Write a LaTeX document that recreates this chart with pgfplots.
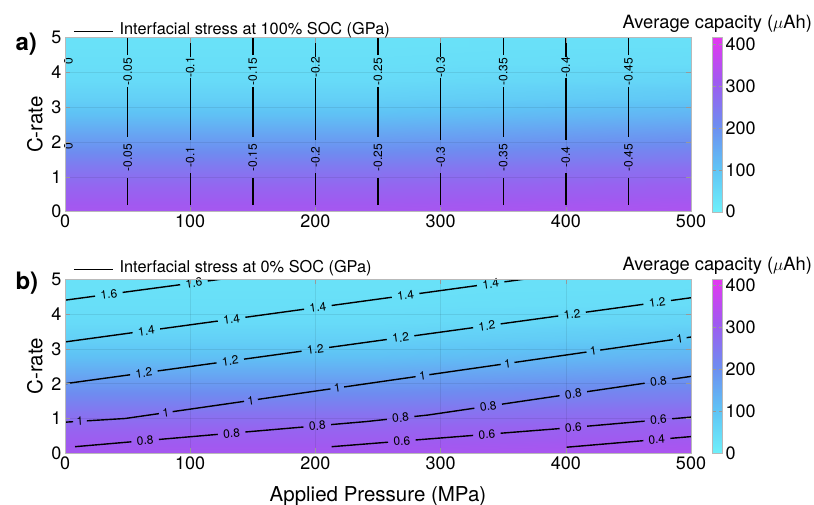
\documentclass[border=0pt]{standalone}
\usepackage{pgfplots}
\usepackage{pgfplotstable}
\pgfplotsset{compat=1.18}
\usepackage{fontspec}
\setmainfont{TeX Gyre Heros}

\newcommand{\bigf}{\fontsize{20.5}{22}\selectfont}
\newcommand{\tickf}{\fontsize{18}{20}\selectfont}
\newcommand{\lab}{\fontsize{12}{14}\selectfont}

% capacity vs C-rate, same for every pressure
\pgfplotstableread{
p r c
0 0 330
500 0 330
0 0.5 312
500 0.5 312
0 1 287
500 1 287
0 1.5 250
500 1.5 250
0 2 205
500 2 205
0 2.5 158
500 2.5 158
0 3 112
500 3 112
0 3.5 75
500 3.5 75
0 4 50
500 4 50
0 4.5 40
500 4.5 40
0 5 35
500 5 35
}\bgdata

\pgfplotsset{
  panel/.style={
    scale only axis, width=626pt, height=174pt,
    xmin=0, xmax=500, ymin=0, ymax=5,
    clip mode=individual,
    xtick={0,100,...,500}, ytick={0,1,...,5},
    tick align=inside, major tick length=5pt,
    every tick/.style={gray!80, line width=0.5pt},
    axis line style={gray!55, line width=0.7pt},
    grid=major, major grid style={black, opacity=0.08, line width=0.5pt},
    axis on top,
    tick label style={font=\tickf},
    label style={font=\bigf},
    /pgf/number format/assume math mode=true,
    colormap={capmap}{rgb255=(110,240,250) rgb255=(95,195,245) rgb255=(110,140,240) rgb255=(160,90,240) rgb255=(228,55,240)},
    point meta min=0, point meta max=415,
    colorbar,
    colorbar style={
      at={(parent axis.north east)}, anchor=north west, xshift=13pt,
      scale only axis, width=9.5pt, height=174pt,
      ytick={0,100,...,400},
      yticklabel style={font=\tickf},
      axis line style={gray!55},
      major tick length=3pt, tick align=inside,
      every tick/.style={gray!80},
      /pgf/number format/assume math mode=true,
      title={Average capacity ($\mu$Ah)},
      title style={at={(0.5,1)}, anchor=base, yshift=3pt, font=\fontsize{18.3}{20}\selectfont},
    },
    legend style={draw=none, fill=none, at={(axis description cs:0,1)},
      anchor=south west, xshift=5pt, font=\fontsize{16.3}{18}\selectfont},
    legend cell align=left,
    legend image code/.code={\draw[#1] (0pt,-2pt) -- (39pt,-2pt); \path (43pt,0pt);},
    ylabel={C-rate},
    ylabel style={at={(axis description cs:-0.048,0.5)}, anchor=center},
  },
  cline/.style={black, line width=1.4pt, unbounded coords=jump},
}

\begin{document}
\begin{tikzpicture}
\path[use as bounding box] (-65pt,211.7pt) rectangle (749pt,-293.3pt);

% ---------------- a) ----------------
\begin{axis}[panel, legend style={yshift=-3pt}]
\addplot[matrix plot*, shader=interp, mesh/cols=2, point meta=explicit, forget plot]
  table[x=p, y=r, meta=c] {\bgdata};
\addplot[cline] table {
x y
0.6 0.19
0.6 1.77
nan nan
0.6 2.01
0.6 4.21
nan nan
0.6 4.45
0.6 5
nan nan
50 0.19
50 0.96
nan nan
50 2.15
50 3.57
nan nan
50 4.5
50 5
nan nan
100 0.19
100 1.10
nan nan
100 2.06
100 3.83
nan nan
100 4.45
100 5
nan nan
150 0.19
150 0.96
nan nan
150 2.15
150 3.57
nan nan
150 4.5
150 5
nan nan
200 0.19
200 1.10
nan nan
200 2.06
200 3.83
nan nan
200 4.45
200 5
nan nan
250 0.19
250 0.96
nan nan
250 2.15
250 3.57
nan nan
250 4.5
250 5
nan nan
300 0.19
300 1.10
nan nan
300 2.06
300 3.83
nan nan
300 4.45
300 5
nan nan
350 0.19
350 0.96
nan nan
350 2.15
350 3.57
nan nan
350 4.5
350 5
nan nan
400 0.19
400 1.10
nan nan
400 2.06
400 3.83
nan nan
400 4.45
400 5
nan nan
450 0.19
450 0.96
nan nan
450 2.15
450 3.57
nan nan
450 4.5
450 5
};
\addlegendentry{Interfacial stress at 100\% SOC (GPa)}
\addplot[only marks, mark=none, forget plot, nodes near coords, point meta=explicit symbolic,
  every node near coord/.style={rotate=90, anchor=center, inner sep=0pt, font=\lab, black}]
  table[meta=t] {
x y t
2.8 1.89 0
2.8 4.33 0
50 1.56 -0.05
50 4.03 -0.05
100 1.58 -0.1
100 4.14 -0.1
150 1.56 -0.15
150 4.03 -0.15
200 1.58 -0.2
200 4.14 -0.2
250 1.56 -0.25
250 4.03 -0.25
300 1.58 -0.3
300 4.14 -0.3
350 1.56 -0.35
350 4.03 -0.35
400 1.58 -0.4
400 4.14 -0.4
450 1.56 -0.45
450 4.03 -0.45
};
\node[anchor=base west, font=\fontsize{24}{26}\selectfont\bfseries] at (rel axis cs:-0.0847,0.928) {a)};
\end{axis}

% ---------------- b) ----------------
\begin{axis}[panel, at={(0,-241.6pt)}, legend style={yshift=1pt},
  xlabel={Applied Pressure (MPa)},
  xlabel style={at={(axis description cs:0.5,0)}, anchor=base, yshift=-47.7pt}]
\addplot[matrix plot*, shader=interp, mesh/cols=2, point meta=explicit, forget plot]
  table[x=p, y=r, meta=c] {\bgdata};
\addplot[cline] table {
x y
0 4.40
24 4.516
nan nan
46 4.623
92 4.845
nan nan
114 4.952
124 5.0
nan nan
0 3.20
54 3.466
nan nan
76 3.574
122 3.800
nan nan
144 3.908
191 4.140
nan nan
213 4.248
261 4.484
nan nan
283 4.592
329 4.819
nan nan
351 4.927
366 5.0
nan nan
0 2.00
52 2.257
nan nan
74 2.366
121 2.598
nan nan
143 2.706
189 2.934
nan nan
211 3.042
257 3.270
nan nan
279 3.378
326 3.610
nan nan
348 3.719
394 3.946
nan nan
416 4.055
462 4.282
nan nan
484 4.391
500 4.470
nan nan
0 0.894
6.5 0.908
nan nan
17.5 0.933
48 1.0
75 1.140
nan nan
86 1.197
143 1.492
nan nan
154 1.549
212 1.850
nan nan
223 1.907
280 2.202
nan nan
291 2.259
348 2.554
nan nan
359 2.611
416.5 2.909
nan nan
427.5 2.966
485.5 3.266
nan nan
496.5 3.323
500 3.341
nan nan
8 0.19
53 0.330
nan nan
75 0.398
122 0.544
nan nan
144 0.612
190.5 0.756
nan nan
212.5 0.825
240 0.91
257 0.975
nan nan
279 1.058
290 1.10
327 1.296
nan nan
349 1.412
395 1.655
nan nan
417 1.771
463 2.014
nan nan
485 2.131
500 2.21
nan nan
213 0.19
258 0.319
nan nan
280 0.383
326 0.514
nan nan
348 0.577
395 0.71
nan nan
417 0.779
463 0.924
nan nan
485 0.993
500 1.04
nan nan
400.7 0.175
462 0.363
nan nan
483.5 0.429
500 0.48
};
\addlegendentry{Interfacial stress at 0\% SOC (GPa)}
\addplot[only marks, mark=none, forget plot, nodes near coords, point meta=explicit symbolic,
  visualization depends on={value \thisrow{a}\as\ang},
  every node near coord/.style={rotate=\ang, anchor=center, inner sep=0pt, font=\lab, black}]
  table[meta=t] {
x y t a
35 4.569 1.6 7.6
103 4.899 1.6 7.6
65 3.520 1.4 7.8
133 3.854 1.4 7.8
202 4.194 1.4 7.8
272 4.538 1.4 7.8
340 4.873 1.4 7.8
63 2.311 1.2 7.8
132 2.652 1.2 7.8
200 2.988 1.2 7.8
268 3.324 1.2 7.8
337 3.665 1.2 7.8
405 4.001 1.2 7.8
473 4.337 1.2 7.8
12 0.921 1 3.5
80.5 1.168 1 8.2
148.5 1.521 1 8.2
217.5 1.878 1 8.2
285.5 2.230 1 8.2
353.5 2.583 1 8.2
422 2.937 1 8.2
491 3.295 1 8.2
64 0.364 0.8 4.9
133 0.578 0.8 4.9
201.5 0.790 0.8 4.9
268 1.016 0.8 6
338 1.354 0.8 8.3
406 1.713 0.8 8.3
474 2.072 0.8 8.3
269 0.350 0.6 4.7
337 0.545 0.6 4.7
406 0.745 0.6 5
474 0.959 0.6 5
472.6 0.396 0.4 4.9
};
\node[anchor=base west, font=\fontsize{24}{26}\selectfont\bfseries] at (rel axis cs:-0.0847,0.942) {b)};
\end{axis}
\end{tikzpicture}
\end{document}
